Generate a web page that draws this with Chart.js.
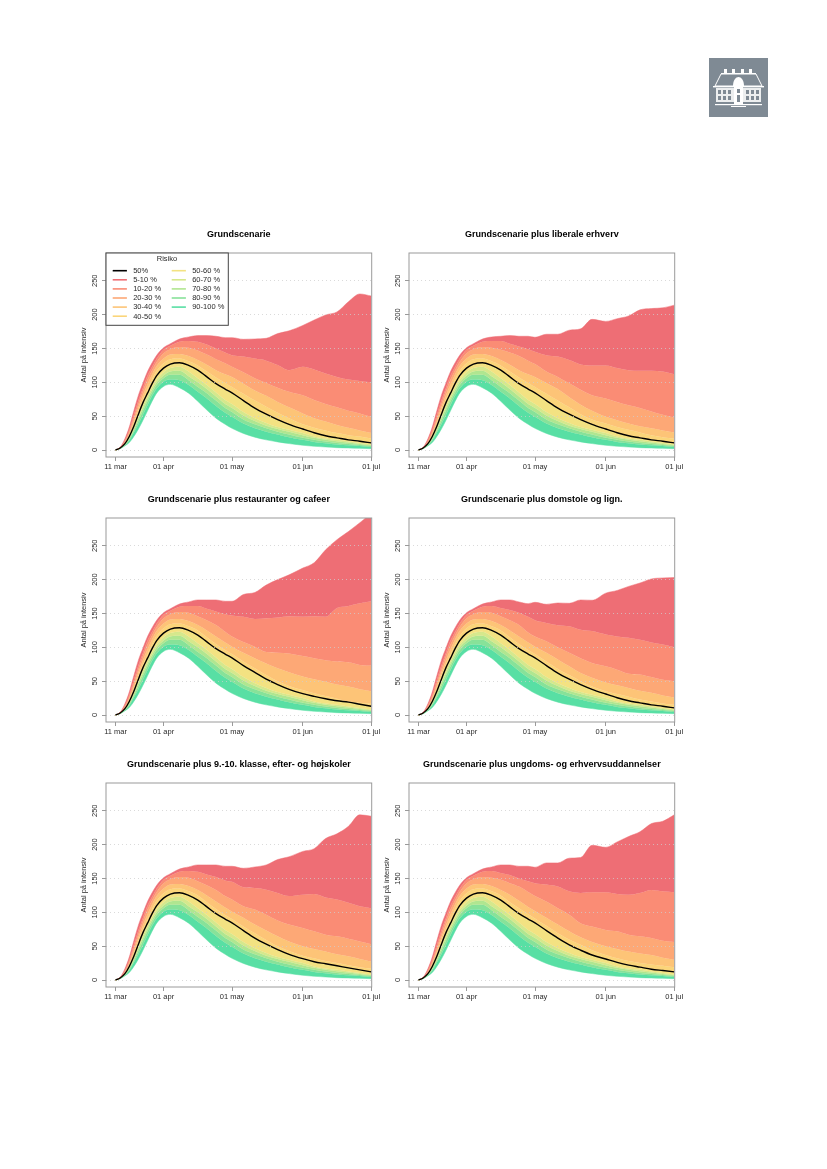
<!DOCTYPE html>
<html lang="da">
<head>
<meta charset="utf-8">
<title>Grundscenarie</title>
<script src="https://cdn.jsdelivr.net/npm/chart.js@4"></script>
<style>
  html, body { margin: 0; padding: 0; background: #fff; }
  #page { position: relative; width: 827px; height: 1169px; overflow: hidden; }
  #page canvas { position: absolute; }
  #logo { position: absolute; left: 709px; top: 58px; width: 59px; height: 59px; }
</style>
</head>
<body>
<div id="page">
  <svg id="logo" viewBox="0 0 59 59">
    <rect width="59" height="59" fill="#7f8a94"/>
    <g fill="#fff">
      <rect x="15" y="11" width="3" height="4"/><rect x="23" y="11" width="3" height="4"/>
      <rect x="32" y="11" width="3" height="4"/><rect x="40" y="11" width="3" height="4"/>
      <rect x="12" y="15" width="35" height="1"/>
      <path d="M12 16h35l6 12H6z" fill="none" stroke="#fff" stroke-width="1"/>
      <rect x="4" y="28" width="51" height="1.4"/>
      <rect x="7" y="30" width="45" height="14" opacity=".85"/>
      <rect x="6" y="46" width="47" height="1.2"/>
      <path d="M24 28c0-6 3-9 5.500-9s5.500 3 5.500 9z"/>
      <rect x="25" y="28" width="9" height="19"/>
      <rect x="22" y="48" width="15" height="1"/>
    </g>
    <g fill="#7f8a94">
      <rect x="9" y="32" width="3" height="4"/><rect x="14" y="32" width="3" height="4"/><rect x="19" y="32" width="3" height="4"/>
      <rect x="37" y="32" width="3" height="4"/><rect x="42" y="32" width="3" height="4"/><rect x="47" y="32" width="3" height="4"/>
      <rect x="9" y="38" width="3" height="4"/><rect x="14" y="38" width="3" height="4"/><rect x="19" y="38" width="3" height="4"/>
      <rect x="37" y="38" width="3" height="4"/><rect x="42" y="38" width="3" height="4"/><rect x="47" y="38" width="3" height="4"/>
      <rect x="28" y="31" width="3" height="4"/><rect x="28" y="37" width="3" height="7"/>
    </g>
  </svg>
</div>
<script>
// dage efter 11 mar
const DAYS = [0, 2, 4, 6, 8, 10, 12, 14, 16, 18, 21, 24, 28, 32, 36, 40, 44, 48, 51, 56, 61, 66, 71, 76, 82, 87, 92, 97, 102, 107, 112];
const X_TICK_DAYS = [0, 21, 51, 82, 112];
const X_TICK_LABELS = ['11 mar', '01 apr', '01 may', '01 jun', '01 jul'];
const Y_TICKS = [0, 50, 100, 150, 200, 250];

const PANEL_TITLES = [
  'Grundscenarie',
  'Grundscenarie plus liberale erhverv',
  'Grundscenarie plus restauranter og cafeer',
  'Grundscenarie plus domstole og lign.',
  'Grundscenarie plus 9.-10. klasse, efter- og højskoler',
  'Grundscenarie plus ungdoms- og erhvervsuddannelser',
];

const MEDIAN_LABEL = '50%';
const BAND_LABELS = ['5-10 %', '10-20 %', '20-30 %', '30-40 %', '40-50 %', '50-60 %', '60-70 %', '70-80 %', '80-90 %', '90-100 %'];
const BAND_COLORS = ['#ee6e75', '#fa8c75', '#fda876', '#fdc477', '#fbd57a', '#f3e282', '#d6e88c', '#b0e690', '#87e299', '#58dfa4'];

// stigningen op til 1. toppunkt er ens i alle scenarier
const TOP_RISE = [0, 4, 16, 34, 58, 81, 99, 116, 129, 140, 151, 157, 164, 167];
const Q10_RISE = [0, 3.5, 14, 30, 52, 73, 92, 110, 123, 135, 148, 154, 160, 161];
const Q20_RISE = [0, 3.3, 12, 27, 47, 68, 87, 104, 118, 130, 143, 149, 152, 151];
const Q30_RISE = [0, 3.2, 11, 25, 43, 63, 81, 97, 112, 124, 135, 141, 142, 139];
const Q40_RISE = [0, 3.1, 10, 22, 39, 58, 75, 90, 105, 117, 128, 134, 135, 131];
const Q50_RISE = [0, 3, 9, 20, 35, 53, 70, 84, 98, 110, 121, 127, 129, 125];

// de nederste baand er naesten ens i alle scenarier
const Q60 = [0, 2.8, 8.5, 19, 33, 50, 66, 80, 93, 104, 115, 121, 123, 116, 106, 96, 85, 74, 68, 56, 47, 40, 34, 30, 25, 20, 17, 15, 12.5, 10.5, 8];
const Q70 = [0, 2.6, 8, 18, 31, 47, 62, 76, 89, 100, 110, 116, 117, 109, 100, 90, 79, 68, 62, 51, 43, 36, 31, 27, 22, 18, 15, 13, 11, 9, 7];
const Q80 = [0, 2.4, 7.5, 16, 28, 43, 58, 72, 85, 96, 106, 111, 111, 103, 93, 84, 73, 62, 56, 45, 38, 32, 27, 23, 18, 15, 12.5, 10.5, 9, 7.5, 6];
const Q90 = [0, 2.2, 7, 14, 26, 38, 52, 66, 80, 91, 101, 104, 103, 96, 86, 76, 65, 55, 49, 39, 32, 27, 23, 19, 15, 12, 10, 8, 7, 6, 4.5];
const Q100 = [0, 2, 6, 11, 20, 31, 44, 58, 72, 84, 94, 97, 92, 84, 72, 59, 47, 38, 32, 24.5, 19, 15, 12, 9.5, 7, 5.5, 4.5, 3.5, 3, 2.5, 2];

// Grundscenarie, fra 36 dage og frem
const BASE_TOP = [169, 169, 168, 166, 166, 163.5, 164, 165, 172, 176, 184, 192, 199.5, 204, 219, 230.5, 227.5];
const BASE_Q10 = [160, 156, 150, 144, 140, 138, 135, 132, 125.5, 118, 123, 119, 113, 108, 104, 102, 100];
const BASE_Q20 = [147, 141, 134, 128, 123, 115, 106, 99, 92, 86, 81, 74, 68, 63, 58, 54, 49];
const BASE_Q30 = [133, 126, 118, 112, 108, 98, 88, 80, 71, 63, 54, 47, 42, 37, 33, 29, 25];
const BASE_Q40 = [125, 116, 107, 99, 93, 83, 73, 64, 55, 47, 38, 33, 29, 25, 22, 20, 17];
const BASE_Q50 = [118, 108, 98, 90, 84.5, 73, 62, 53, 45, 38, 31, 25.5, 21, 18, 15, 13, 10.5];

// liberale erhverv
const LIB_TOP = [168, 169, 168, 168, 166.5, 171, 171, 177, 179, 193, 190, 194, 198, 207, 209, 210, 214];
const LIB_Q10 = [161, 157, 153, 149, 145, 140, 138, 133, 126.5, 125, 125, 121, 118, 117, 117, 116, 112];
const LIB_Q20 = [148, 144, 139, 132, 127, 116, 108, 98.5, 89, 81, 76, 71, 66, 62, 57, 52, 48];
const LIB_Q30 = [133, 126, 118, 112, 108, 99, 90, 78, 67, 58, 49, 44, 39, 35, 32, 29, 26];
const LIB_Q40 = [125, 116, 107, 99, 93, 83, 73, 63, 53, 45, 39, 34, 30, 26, 22, 19, 17];

// restauranter og cafeer
const REST_TOP = [170, 170, 170, 168, 168, 178, 181, 192, 200, 207, 217, 225, 244, 259, 271, 284, 298];
const REST_Q10 = [161, 157, 153, 149, 147, 145, 142, 143, 144, 146, 145, 146, 145, 158, 161, 165, 168];
const REST_Q20 = [146, 140, 133, 123, 116, 108, 101, 93, 92, 91, 87, 84, 81, 79, 78, 74, 73];
const REST_Q30 = [133, 125, 116, 107, 101, 92, 84, 76, 69, 63, 57, 53, 49, 45, 42, 38, 35];
const REST_Q40 = [125, 115, 105, 96, 90, 79, 69, 59, 50, 43, 37, 32, 28, 24, 20, 18, 17];
const REST_Q50 = [118, 108, 98, 90, 84.5, 73, 63, 53, 45, 38, 31.5, 27.5, 24, 21, 19, 16, 13];

// domstole og lign.
const DOM_TOP = [170, 170, 167, 164.5, 166.5, 163.5, 165.5, 165, 170, 169.5, 180, 184, 190, 195, 201, 202.5, 203];
const DOM_Q10 = [158, 155, 151, 145, 140, 136, 132.5, 131, 126, 124, 119, 116, 114, 111, 107, 104, 100];
const DOM_Q20 = [146, 140, 133, 122, 116, 109, 100, 92, 84, 77, 72, 67, 61, 60, 56, 52, 50];
const DOM_Q30 = [133, 125, 116, 107, 101, 92, 82, 72, 62, 55, 48, 44, 40, 36, 33, 29, 26];
const DOM_Q40 = [125, 115, 105, 96, 90, 79, 68, 59, 50, 42, 35, 31, 27, 23, 20, 17, 15];

// 9.-10. klasse, efter- og hoejskoler
const SKOLE_TOP = [170, 170, 170, 168, 168, 165, 167, 170, 178, 182, 190, 194, 209, 216, 227, 244, 242];
const SKOLE_Q10 = [160, 156, 152, 147, 145, 137, 136, 133.5, 128.5, 124, 126, 127, 122, 119, 114, 109, 106];
const SKOLE_Q20 = [146, 140, 133, 124, 119, 109, 104, 96.5, 88, 82, 77, 72, 67, 64.5, 61, 57, 53];
const SKOLE_Q30 = [133, 125, 116, 107, 101, 92, 82, 73, 64.5, 57, 50, 46, 42, 38, 35, 31, 27];
const SKOLE_Q40 = [125, 115, 105, 96, 90, 79, 69, 59, 50, 43, 36, 32, 28, 25, 22, 19, 17];
const SKOLE_Q50 = [118, 108, 98, 90, 84.5, 73, 62, 53, 45, 38, 31.5, 27, 24, 21, 18, 15, 12];

// ungdoms- og erhvervsuddannelser
const UNG_TOP = [170, 170, 168, 168, 166.5, 173, 173, 180, 181, 199, 196, 204, 212, 219, 231, 234.5, 244];
const UNG_Q10 = [158, 155, 150, 146, 143, 141, 138, 131, 128.5, 129.5, 129.5, 127, 126, 128.5, 133, 131, 129.5];
const UNG_Q20 = [148, 143, 138, 130, 124, 116, 106, 96.5, 84, 79, 74, 72, 67, 64.5, 62, 58, 56];
const UNG_Q30 = [133, 126, 117, 108, 102, 92, 82, 72, 63, 56, 50, 46, 42, 39, 37, 33, 30];
const UNG_Q40 = [125, 115, 106, 97, 91, 80, 69, 60, 52, 44, 37, 32, 28, 25, 23, 21, 19];
const UNG_Q50 = [118, 108, 98, 90, 84.5, 73, 62, 52, 44, 37, 31, 26, 22, 19, 16, 14, 12];

const PANEL_TAILS = [
  [BASE_TOP, BASE_Q10, BASE_Q20, BASE_Q30, BASE_Q40, BASE_Q50],
  [LIB_TOP, LIB_Q10, LIB_Q20, LIB_Q30, LIB_Q40, BASE_Q50],
  [REST_TOP, REST_Q10, REST_Q20, REST_Q30, REST_Q40, REST_Q50],
  [DOM_TOP, DOM_Q10, DOM_Q20, DOM_Q30, DOM_Q40, BASE_Q50],
  [SKOLE_TOP, SKOLE_Q10, SKOLE_Q20, SKOLE_Q30, SKOLE_Q40, SKOLE_Q50],
  [UNG_TOP, UNG_Q10, UNG_Q20, UNG_Q30, UNG_Q40, UNG_Q50],
];

const FONT = '"Liberation Sans", Arial, sans-serif';
const AXIS_GRAY = '#9a9a9a';
const TEXT_COLOR = '#2a2a2a';
const COL_X = [70, 373.3];
const ROW_Y = [225, 490.3, 755.3];

const toPoints = (values) => values.map((y, i) => ({ x: DAYS[i], y }));

function buildDatasets(tails) {
  const [top, q10, q20, q30, q40, q50] = tails;
  const bounds = [
    [...TOP_RISE, ...top],
    [...Q10_RISE, ...q10],
    [...Q20_RISE, ...q20],
    [...Q30_RISE, ...q30],
    [...Q40_RISE, ...q40],
    [...Q50_RISE, ...q50],
    Q60, Q70, Q80, Q90, Q100,
  ];
  const datasets = bounds.map((values, i) => ({
    label: BAND_LABELS[i] || 'bund',
    data: toPoints(values),
    borderColor: BAND_COLORS[i] || BAND_COLORS[9],
    backgroundColor: BAND_COLORS[i] || 'transparent',
    borderWidth: 0.5,
    pointRadius: 0,
    cubicInterpolationMode: 'monotone',
    fill: i < bounds.length - 1 ? '+1' : false,
  }));
  datasets.push({
    label: MEDIAN_LABEL,
    data: toPoints(bounds[5]),
    borderColor: '#000',
    borderWidth: 1.4,
    pointRadius: 0,
    cubicInterpolationMode: 'monotone',
    fill: false,
    order: -1,
  });
  return datasets;
}

// R-agtig ramme om plotomraadet
const frameBox = {
  id: 'frameBox',
  afterDraw(chart) {
    const { ctx, chartArea: a } = chart;
    ctx.save();
    ctx.strokeStyle = AXIS_GRAY;
    ctx.lineWidth = 1;
    ctx.strokeRect(a.left, a.top, a.right - a.left, a.bottom - a.top);
    ctx.restore();
  },
};

// legenden i foerste panel, to kolonner
const riskLegend = {
  id: 'riskLegend',
  afterDraw(chart) {
    const { ctx, chartArea: a } = chart;
    const left = a.left;
    const top = a.top;
    ctx.save();
    ctx.fillStyle = '#fff';
    ctx.fillRect(left, top, 122.3, 72.3);
    ctx.strokeStyle = '#444';
    ctx.lineWidth = 1;
    ctx.strokeRect(left, top, 122.3, 72.3);
    ctx.font = `7.5px ${FONT}`;
    ctx.fillStyle = TEXT_COLOR;
    ctx.textBaseline = 'middle';
    ctx.textAlign = 'center';
    ctx.fillText('Risiko', left + 61, top + 6.3);
    ctx.textAlign = 'left';
    const entries = [
      { label: MEDIAN_LABEL, color: '#000' },
      ...BAND_LABELS.map((label, i) => ({ label, color: BAND_COLORS[i] })),
    ];
    entries.forEach((e, i) => {
      const col = i < 6 ? 0 : 1;
      const row = i < 6 ? i : i - 6;
      const x = left + (col ? 65.7 : 6.7);
      const y = top + 17.7 + row * 9.1;
      ctx.strokeStyle = e.color;
      ctx.lineWidth = 1.6;
      ctx.beginPath();
      ctx.moveTo(x, y);
      ctx.lineTo(x + 14.2, y);
      ctx.stroke();
      ctx.fillStyle = TEXT_COLOR;
      ctx.fillText(e.label, x + 20.5, y + 0.3);
    });
    ctx.restore();
  },
};

function axisFit(scale, size, key) {
  scale[key] = size;
  scale.paddingLeft = 0;
  scale.paddingRight = 0;
  scale.paddingTop = 0;
  scale.paddingBottom = 0;
}

const page = document.getElementById('page');

PANEL_TITLES.forEach((title, idx) => {
  const canvas = document.createElement('canvas');
  canvas.width = 318;
  canvas.height = 252;
  canvas.style.left = COL_X[idx % 2] + 'px';
  canvas.style.top = ROW_Y[Math.floor(idx / 2)] + 'px';
  canvas.style.width = '318px';
  canvas.style.height = '252px';
  page.appendChild(canvas);

  new Chart(canvas, {
    type: 'line',
    data: { datasets: buildDatasets(PANEL_TAILS[idx]) },
    options: {
      responsive: false,
      animation: false,
      events: [],
      layout: { padding: { top: 0, left: 0, right: 16.3, bottom: 0 } },
      plugins: {
        legend: { display: false },
        tooltip: { enabled: false },
        title: {
          display: true,
          text: title,
          fullSize: false,
          color: '#000',
          font: { family: FONT, size: 9, weight: 'bold' },
          padding: { top: 4.6, bottom: 12.6 },
        },
      },
      scales: {
        x: {
          type: 'linear',
          min: -4.2,
          max: 112.2,
          afterBuildTicks: (s) => { s.ticks = X_TICK_DAYS.map((value) => ({ value })); },
          afterFit: (s) => axisFit(s, 20, 'height'),
          border: { display: false },
          grid: { drawOnChartArea: false, drawTicks: true, tickLength: 4, tickColor: AXIS_GRAY, tickWidth: 1 },
          ticks: {
            autoSkip: false,
            maxRotation: 0,
            padding: 1.5,
            color: TEXT_COLOR,
            font: { family: FONT, size: 7.5 },
            callback: (v) => X_TICK_LABELS[X_TICK_DAYS.indexOf(v)],
          },
        },
        y: {
          type: 'linear',
          min: -10.3,
          max: 291,
          afterBuildTicks: (s) => { s.ticks = Y_TICKS.map((value) => ({ value })); },
          afterFit: (s) => axisFit(s, 36, 'width'),
          border: { display: false, dash: [1, 3] },
          grid: {
            z: 1,
            color: 'rgba(205,205,205,0.75)',
            lineWidth: 1,
            drawTicks: true,
            tickLength: 4,
            tickColor: AXIS_GRAY,
            tickBorderDash: [],
          },
          ticks: {
            minRotation: 90,
            maxRotation: 90,
            crossAlign: 'center',
            padding: 1,
            color: TEXT_COLOR,
            font: { family: FONT, size: 7.5 },
          },
          title: {
            display: true,
            text: 'Antal på intensiv',
            color: TEXT_COLOR,
            font: { family: FONT, size: 7.5 },
            padding: { top: 9.5, bottom: 0 },
          },
        },
      },
    },
    plugins: idx === 0 ? [frameBox, riskLegend] : [frameBox],
  });
});
</script>
</body>
</html>
